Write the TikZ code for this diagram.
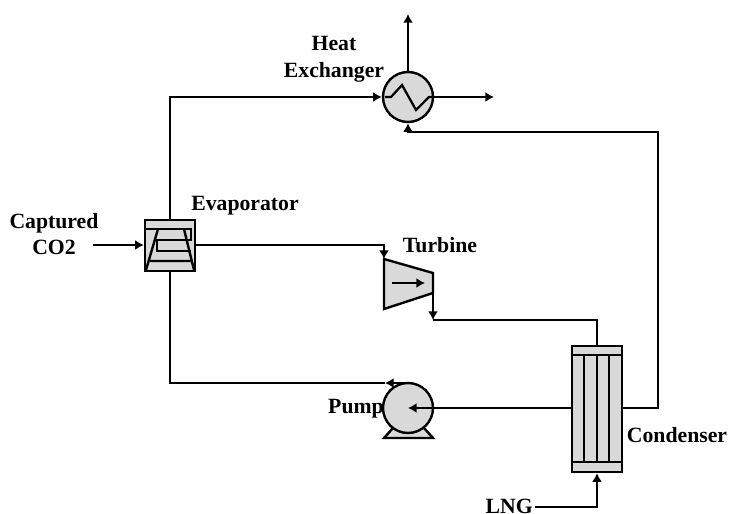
\documentclass[tikz,border=0pt]{standalone}
\usepackage{fontspec}
\setmainfont{Liberation Serif}
\usetikzlibrary{arrows.meta,calc}
\tikzset{
  lbl/.style={font=\fontsize{16.3}{20}\selectfont\bfseries,align=center,inner sep=0pt,text=black},
  unit/.style={draw=black,fill=black!15,line width=1.8pt},
  inner/.style={draw=black,line width=1.8pt},
  pipe/.style={draw=black,line width=1.5pt},
  flow/.style={pipe,-{Latex[length=6.5pt,width=7.5pt]}},
  vessel/.style={unit,circle,minimum size=37.5pt,inner sep=0pt},
  rbox/.style={unit,rectangle,inner sep=0pt}
}
\begin{document}
\begin{tikzpicture}[x=0.75pt,y=-0.75pt]
\useasboundingbox (0,0) rectangle (729,514);
% nodes
\node[rbox,minimum width=37.5pt,minimum height=38.25pt] (evap) at (170,245.5) {};
\node[vessel] (hx) at (408,97) {};
\node[rbox,minimum width=37.5pt,minimum height=94.5pt] (cond) at (597,409) {};
\coordinate (t1) at (384,259); \coordinate (t2) at (433,273);
\coordinate (t3) at (433,293); \coordinate (t4) at (384,309);
\coordinate (pumptop) at (410,383);
\coordinate (co2in) at (93,245);
\coordinate (hxup) at (408,14);
\coordinate (hxout) at (494,97);
\coordinate (lng) at (535,507);
% pump base then body
\draw[unit] (393,428) -- (384,438) -- (433,438) -- (424,428) -- cycle;
\node[vessel] (pump) at (408,408) {};
% turbine
\draw[unit,line join=miter] (t1) -- (t2) -- (t3) -- (t4) -- cycle;
\draw[flow] (392,283) -- (425,283);
% evaporator inner
\draw[inner] (145,229) -- (191,229) -- (191,240) -- (157,240) -- (157,251) -- (191,251);
\draw[inner] (146,270) -- (158,229) (184,229) -- (194,270) (150,261) -- (191,261);
% hx coil
\draw[pipe,line width=1.7pt] (385,97) -- (391,97) -- (402,85) -- (416,110) -- (429,97) -- (433,97);
% condenser inner
\draw[inner] (cond.north west) ++(0,10) -- ++(51,0);
\draw[inner] (cond.south west) ++(0,-11) -- ++(51,0);
\draw[inner] (584,356) -- (584,461) (597,356) -- (597,461) (609,356) -- (609,461);
% connectors
\draw[flow] (co2in) -- (evap.west |- co2in);
\draw[flow] (evap.north) |- (hx.west);
\draw[flow] (hx.north) -- (hxup);
\draw[flow] (hx.east) -- (hxout);
\draw[flow] (cond.east |- 0,408) -- (658,408) -- (658,132) -- (408,132) -- (hx.south);
\draw[flow] (evap.east |- 0,245) -- (384,245) -- (t1);
\draw[flow] (t3) -- (433,320);
\draw[pipe] (433,320) -- (597,320) -- (cond.north);
\draw[flow] (pumptop) -- (385,383);
\draw[pipe] (385,383) -- (170,383) -- (evap.south);
\draw[flow] (cond.west |- 0,408) -- (pump.center);
\draw[flow] (lng) -- (597,507) -- (cond.south);
% labels
\node[lbl] (l1) at (54,234) {Captured\\CO2};
\node[lbl] (l2) at (245,206) {Evaporator};
\node[lbl] (l3) at (334,59) {Heat\\Exchanger};
\node[lbl] (l4) at (440,245) {Turbine};
\node[lbl] (l5) at (356,409) {Pump};
\node[lbl] (l6) at (677,435) {Condenser};
\node[lbl,anchor=east] (l7) at (533,506) {LNG};
\end{tikzpicture}
\end{document}
